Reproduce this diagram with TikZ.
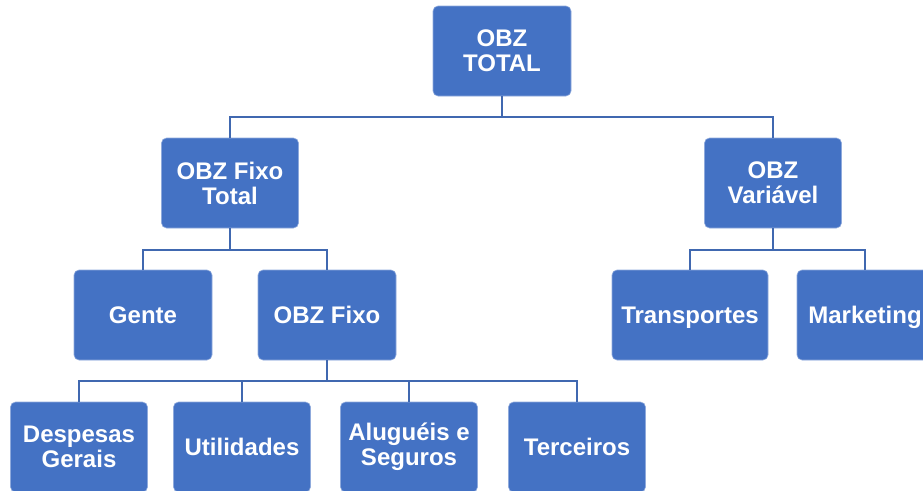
\documentclass[tikz,border=0pt]{standalone}
\usepackage{fontspec}
\setmainfont{Liberation Sans}
\definecolor{boxblue}{HTML}{4472C4}
\definecolor{lineblue}{HTML}{4068B0}
\begin{document}
\begin{tikzpicture}[x=1pt,y=-1pt,
  box/.style={draw=boxblue!60!white, line width=0.6pt, fill=boxblue, rounded corners=5pt,
    text=white, font=\bfseries\fontsize{24}{25}\selectfont, align=center, inner sep=0pt},
  oneline/.style={text height=17pt, text depth=0pt},
  conn/.style={draw=lineblue, line width=2.8pt}]
\useasboundingbox (0,0) rectangle (923,490);
\clip (0,0) rectangle (923,490);
% boxes
\node[box, minimum width=138pt, minimum height=90pt] (tot) at (502,51) {OBZ\\TOTAL};
\node[box, minimum width=137pt, minimum height=90pt] (fixt) at (230,183) {OBZ Fixo\\Total};
\node[box, minimum width=137pt, minimum height=90pt] (var) at (773,183) {OBZ\\Variável};
\node[box, oneline, minimum width=138pt, minimum height=90pt] (gente) at (143,315) {Gente};
\node[box, oneline, minimum width=138pt, minimum height=90pt] (fixo) at (327,315) {OBZ Fixo};
\node[box, oneline, minimum width=156pt, minimum height=90pt] (trans) at (690,315) {Transportes};
\node[box, oneline, minimum width=136pt, minimum height=90pt] (mkt) at (865,315) {Marketing};
\node[box, minimum width=137pt, minimum height=90pt] (desp) at (79,447) {Despesas\\Gerais};
\node[box, oneline, minimum width=137pt, minimum height=90pt] (util) at (242,447) {Utilidades};
\node[box, minimum width=137pt, minimum height=90pt] (alug) at (409,447) {Aluguéis e\\Seguros};
\node[box, oneline, minimum width=137pt, minimum height=90pt] (terc) at (577,447) {Terceiros};
% connectors
\coordinate (b1) at (502,117);
\draw[conn] (tot.south) -- (b1);
\draw[conn] (fixt.north) |- (b1) -| (var.north);
\coordinate (b2) at (230,250);
\draw[conn] (fixt.south) -- (b2);
\draw[conn] (gente.north) |- (b2) -| (fixo.north);
\coordinate (b3) at (773,250);
\draw[conn] (var.south) -- (b3);
\draw[conn] (trans.north) |- (b3) -| (mkt.north);
\coordinate (b4) at (327,381);
\draw[conn] (fixo.south) -- (b4);
\draw[conn] (desp.north) |- (b4) -| (terc.north);
\draw[conn] (util.north) -- (util.north |- b4);
\draw[conn] (alug.north) -- (alug.north |- b4);
\end{tikzpicture}
\end{document}
